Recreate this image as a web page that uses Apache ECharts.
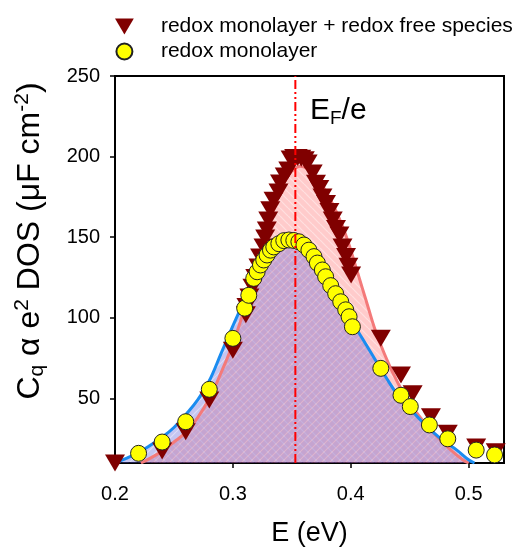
<!DOCTYPE html>
<html>
<head>
<meta charset="utf-8">
<script src="https://cdn.jsdelivr.net/npm/echarts@6/dist/echarts.min.js"></script>
<style>html,body{margin:0;padding:0;background:#fff;}#c{width:520px;height:547px;}</style>
</head>
<body>
<div id="c"></div>
<script>
// ---- data ----
const seriesNames = ['redox monolayer + redox free species', 'redox monolayer'];
const triE = [0.200,0.240,0.260,0.280,0.300,0.311,0.3115,0.314,0.3166,0.319,0.3217,0.3231,0.326,0.3274,0.3288,0.330,0.3317,0.3345,0.3387,0.340,0.344,0.347,0.349,0.352,0.355,0.358,0.361,0.3634,0.3677,0.3705,0.3733,0.376,0.379,0.3819,0.3847,0.3875,0.3904,0.393,0.396,0.398,0.4003,0.4255,0.4426,0.4525,0.468,0.4823,0.5064,0.523];
const triC = [10,17.5,29.4,49,80,102,107,113,119,125,131.5,137.8,144,149.5,154.5,160.7,167,173,178,183.6,188,191.7,198.5,199.5,199.5,199,198,196,189.8,183.5,180.3,175,171,166,160.7,155.5,151.4,144,138,132,126.6,87.3,64.6,53,38.7,28.4,20,17];
const circE = [0.220,0.240,0.260,0.280,0.300,0.310,0.3135,0.3177,0.3206,0.3234,0.3262,0.329,0.3319,0.3347,0.339,0.3432,0.3475,0.3517,0.356,0.3603,0.3645,0.3688,0.3717,0.3759,0.3787,0.383,0.3872,0.3915,0.3957,0.3986,0.4014,0.4255,0.4426,0.4505,0.4667,0.4823,0.5064,0.522];
const circC = [16,23,35.6,55.7,87.3,106,114,124.5,128.6,132.8,135.9,139,142,144,146,147.9,148.3,148,147.2,145.2,142,138,134,129.7,125.5,120,115,110,105,100.7,94.5,68.7,52,45,33.6,25,18,15];
const redE = [0.222,0.230,0.240,0.250,0.260,0.270,0.280,0.290,0.300,0.310,0.320,0.325,0.330,0.335,0.340,0.345,0.350,0.357,0.363,0.370,0.375,0.380,0.385,0.390,0.395,0.400,0.405,0.410,0.415,0.420,0.425,0.435,0.445,0.455,0.465,0.475,0.485,0.495,0.500];
const redC = [10,13,17.5,23,29,38,50,66,84,106,130,143,156,168,178,186,191,194,192.5,187.5,183,177,170,162,153,142,130,118,106,94,84,67,53,42,33,25,18,12,10];
const blueE = [0.200,0.210,0.220,0.230,0.240,0.250,0.260,0.270,0.280,0.290,0.300,0.310,0.320,0.330,0.335,0.340,0.345,0.350,0.355,0.360,0.365,0.370,0.375,0.380,0.385,0.390,0.400,0.410,0.420,0.430,0.440,0.450,0.460,0.470,0.480,0.490,0.500,0.505];
const blueC = [10,13,16.5,21,26,32,40,49,61,78,95,111,125,136,140,142.5,144.3,145,144.6,143,139.5,135,130.5,125,118.5,112,99,87,75,63,52,44,36,29,23,18,12,10];
const fermiE = 0.353;
const yTicks = [50,100,150,200,250];
const xRange = [0.2, 0.53];
const yRange = [10, 250];

const zip = (a, b) => a.map((v, i) => [v, b[i]]);

function hatch(fill, dir) {
  const s = 8;
  const c = document.createElement('canvas');
  c.width = s; c.height = s;
  const ctx = c.getContext('2d');
  ctx.fillStyle = fill;
  ctx.fillRect(0, 0, s, s);
  ctx.globalCompositeOperation = 'destination-out';
  ctx.strokeStyle = 'rgba(0,0,0,0.4)';
  ctx.lineWidth = 1.2;
  ctx.beginPath();
  for (let k = -1; k <= 1; k++) {
    if (dir > 0) { ctx.moveTo(k * s, s); ctx.lineTo(k * s + s, 0); }
    else { ctx.moveTo(k * s, 0); ctx.lineTo(k * s + s, s); }
  }
  ctx.stroke();
  return c;
}

const chart = echarts.init(document.getElementById('c'), null, {renderer: 'canvas'});
const axisFont = {fontFamily: 'Liberation Sans, Arial, sans-serif', color: '#000'};

chart.setOption({
  animation: false,
  backgroundColor: '#fff',
  grid: {left: 115, right: 16, top: 76, bottom: 84, outerBoundsMode: 'none', containLabel: false,
         show: true, borderColor: '#000', borderWidth: 2, backgroundColor: 'transparent'},
  legend: {
    orient: 'vertical', left: 115, top: 16, padding: 0, itemWidth: 19, itemHeight: 16, itemGap: 4,
    textStyle: Object.assign({fontSize: 21, lineHeight: 20, padding: [0, 0, 0, 22]}, axisFont),
    data: [
      {name: seriesNames[0], icon: 'path://M0,0L20,0L10,17Z'},
      {name: seriesNames[1], icon: 'circle'}
    ]
  },
  xAxis: {
    type: 'value', min: xRange[0], max: xRange[1], interval: 0.1,
    name: 'E (eV)', nameLocation: 'middle', nameGap: 57,
    nameTextStyle: Object.assign({fontSize: 27}, axisFont),
    axisLine: {show: true, onZero: false, lineStyle: {color: '#000', width: 2}},
    axisTick: {show: true, length: 5, lineStyle: {color: '#000', width: 1.5}},
    axisLabel: Object.assign({fontSize: 20, margin: 21, showMaxLabel: false, formatter: v => v.toFixed(1)}, axisFont),
    splitLine: {show: false}
  },
  yAxis: {
    type: 'value', min: yRange[0], max: yRange[1],
    axisLine: {show: true, onZero: false, lineStyle: {color: '#000', width: 2}},
    axisTick: {show: true, length: 5, customValues: yTicks, lineStyle: {color: '#000', width: 1.5}},
    axisLabel: Object.assign({fontSize: 20, margin: 15, customValues: yTicks}, axisFont),
    splitLine: {show: false}
  },
  graphic: [
    {
      type: 'text', x: 30, y: 241, rotation: Math.PI / 2,
      style: {
        text: '{m|C}{sub|q}{m| α e}{sup|2}{m| DOS (μF cm}{sup|-2}{m|)}',
        align: 'center', verticalAlign: 'middle',
        rich: {
          m: {fontSize: 32, lineHeight: 36, fontFamily: 'Liberation Sans, Arial', fill: '#000'},
          sub: {fontSize: 21, lineHeight: 20, verticalAlign: 'bottom', fontFamily: 'Liberation Sans, Arial', fill: '#000'},
          sup: {fontSize: 21, lineHeight: 20, verticalAlign: 'top', fontFamily: 'Liberation Sans, Arial', fill: '#000'}
        }
      }
    },
    {
      type: 'text', x: 310, y: 111,
      style: {
        text: '{m|E}{sub|F}{m|/e}',
        align: 'left', verticalAlign: 'middle',
        rich: {
          m: {fontSize: 30, lineHeight: 34, fontFamily: 'Liberation Sans, Arial', fill: '#000'},
          sub: {fontSize: 19, lineHeight: 19, verticalAlign: 'bottom', fontFamily: 'Liberation Sans, Arial', fill: '#000'}
        }
      }
    }
  ],
  series: [
    {
      name: 'redFitArea', type: 'line', data: zip(redE, redC), smooth: 0.4, showSymbol: false, silent: true,
      lineStyle: {width: 0, opacity: 0},
      areaStyle: {origin: 'start', opacity: 1, color: {image: hatch('rgba(255,110,110,0.36)', -1), repeat: 'repeat'}},
      z: 2
    },
    {
      name: seriesNames[0], type: 'scatter', data: zip(triE, triC),
      symbol: 'path://M0,0L20,0L10,17Z', symbolSize: [20, 17],
      itemStyle: {color: '#800000', opacity: 1},
      z: 2
    },
    {
      name: 'redFitLine', type: 'line', data: zip(redE, redC), smooth: 0.4, showSymbol: false, silent: true,
      lineStyle: {width: 3, color: '#f47a7a'},
      z: 2
    },
    {
      name: seriesNames[1], type: 'scatter', data: zip(circE, circC),
      symbol: 'circle', symbolSize: 16,
      itemStyle: {color: '#ffff00', borderColor: '#222', borderWidth: 1, opacity: 1},
      z: 2
    },
    {
      name: 'blueFit', type: 'line', data: zip(blueE, blueC), smooth: 0.4, showSymbol: false, silent: true,
      lineStyle: {width: 3, color: '#1a8cf0'},
      areaStyle: {origin: 'start', opacity: 1, color: {image: hatch('rgba(95,95,215,0.36)', 1), repeat: 'repeat'}},
      z: 2
    },
    {
      name: 'fermi', type: 'line', data: [[fermiE, yRange[0]], [fermiE, yRange[1]]], showSymbol: false, silent: true,
      lineStyle: {width: 2, color: '#ff0000', type: [9, 3, 2, 3, 2, 3]},
      z: 3
    }
  ]
});
</script>
</body>
</html>
